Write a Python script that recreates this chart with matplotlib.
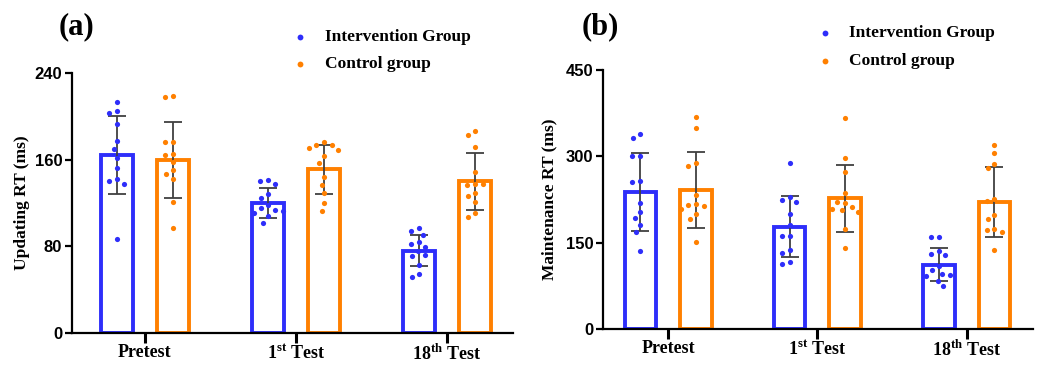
import matplotlib.pyplot as plt
import numpy as np

plt.rcParams['font.family'] = 'Liberation Serif'
plt.rcParams['font.weight'] = 'bold'
plt.rcParams['mathtext.fontset'] = 'custom'
plt.rcParams['mathtext.rm'] = 'Liberation Serif'
plt.rcParams['mathtext.bf'] = 'Liberation Serif:bold'

# data
tests = ['Pretest', '1$^{\\rm st}$ Test', '18$^{\\rm th}$ Test']

upd_int_mean = [164, 120, 76]
upd_int_sd = [36, 13.5, 14.5]
upd_con_mean = [160, 151, 140]
upd_con_sd = [35, 23, 26]
upd_int_pts = [
    [213, 205, 203, 193, 177, 170, 162, 152, 142, 140, 138, 86.5],
    [141, 140, 138, 128, 125, 118, 115, 114, 113, 111, 108, 102],
    [96.6, 94.5, 90.5, 84.3, 81.8, 79.7, 76, 72, 71, 62.5, 54.5, 51.4],
]
upd_con_pts = [
    [219, 218, 176, 176, 165.5, 164, 158, 150.5, 146.5, 142, 121, 97],
    [176, 174, 174, 170.5, 169, 163, 157, 144, 137, 129.5, 120, 113],
    [186.5, 182.8, 171.4, 148.3, 137.2, 136.6, 137.2, 129.5, 126.5, 121, 111, 107.4],
]

mnt_int_mean = [238, 178, 112]
mnt_int_sd = [67, 53, 29]
mnt_con_mean = [242, 227, 221]
mnt_con_sd = [66, 58, 61]
mnt_int_pts = [
    [338, 332, 301, 301, 257, 256, 219, 204, 193, 180, 168, 135],
    [288, 230, 224, 221, 200, 181, 162, 162, 138, 132, 116, 113],
    [160, 160, 136, 131, 128, 109, 103, 96, 94, 92.5, 84, 74],
]
mnt_con_pts = [
    [368, 350, 288, 283, 233, 217, 216, 213, 208, 199.5, 191, 152],
    [366, 297, 272, 236, 219, 220, 212, 206, 209, 203, 174, 140.5],
    [320, 305, 287, 279, 226, 223, 198, 191, 173.5, 172, 168, 137.6],
]

blue = '#2e2efa'
orange = '#ff8000'
W, H = 1045, 366


def swarm_x(ax, xc, vals, d=8.0):
    # simple beeswarm in pixel space
    pts = [ax.transData.transform((xc, v)) for v in vals]
    cx = pts[0][0]
    placed = []
    xs = []
    for px, py in pts:
        cands = [0.0]
        for ox, oy in placed:
            dy = py - oy
            if abs(dy) < d:
                dx = np.sqrt(d * d - dy * dy)
                cands += [ox - dx, ox + dx]
        cands.sort(key=abs)
        for c in cands:
            if all((c - ox) ** 2 + (py - oy) ** 2 >= d * d - 1e-6 for ox, oy in placed):
                break
        placed.append((c, py))
        xs.append(ax.transData.inverted().transform((cx + c, py))[0])
    return xs


def panel(rect, xlim, ylim, yticks, ylabel, means, sds, pts, letter, lpos, lpad):
    ax = fig.add_axes(rect)
    ax.set_xlim(*xlim)
    ax.set_ylim(*ylim)
    idx = np.arange(len(tests))
    off = 0.186
    width = 0.212
    for k, (m, s, p, col) in enumerate([(means[0], sds[0], pts[0], blue),
                                         (means[1], sds[1], pts[1], orange)]):
        xpos = idx + (-off if k == 0 else off)
        ax.bar(xpos, m, width, facecolor='white', edgecolor=col, linewidth=2.8, zorder=2)
        ax.errorbar(xpos, m, yerr=s, fmt='none', ecolor='#404040', elinewidth=1.3,
                    capsize=6.5, capthick=1.3, zorder=3)
        for i in idx:
            xs = swarm_x(ax, xpos[i], p[i])
            ax.scatter(xs, p[i], s=14, color=col, zorder=4, linewidths=0)
    ax.spines['top'].set_visible(False)
    ax.spines['right'].set_visible(False)
    ax.spines['left'].set_linewidth(1.6)
    ax.spines['bottom'].set_linewidth(1.6)
    ax.set_yticks(yticks)
    ax.set_yticklabels([str(t) for t in yticks], family='Liberation Sans',
                       fontweight='bold', fontsize=12)
    ax.tick_params(axis='y', length=5, width=1.6, pad=2)
    ax.set_xticks(idx)
    ax.set_xticklabels(tests, fontsize=13, fontweight='bold')
    ax.tick_params(axis='x', length=7, width=2.2, pad=1)
    ax.set_ylabel(ylabel, fontsize=12.5, fontweight='bold', labelpad=lpad)
    fig.text(letter[0] / W, 1 - letter[1] / H, letter[2], fontsize=22,
             fontweight='bold', va='center', ha='left')
    # legend
    mx, tx, y1, y2 = lpos
    for y, col, lab in [(y1, blue, 'Intervention Group'), (y2, orange, 'Control group')]:
        fig.add_artist(plt.Line2D([mx / W], [1 - y / H], marker='o', markersize=4.2,
                                  color=col, linestyle='none', markeredgewidth=0))
        fig.text(tx / W, 1 - y / H, lab, fontsize=12.5, fontweight='bold',
                 va='center', ha='left')
    return ax


fig = plt.figure(figsize=(W / 100, H / 100), dpi=100)

panel([72 / W, 33 / H, 441 / W, 260 / H], (-0.483, 2.437), (0, 240), [0, 80, 160, 240],
      'Updating RT (ms)', (upd_int_mean, upd_con_mean), (upd_int_sd, upd_con_sd),
      (upd_int_pts, upd_con_pts), (59, 27, '(a)'), (300, 325, 37, 64), 3)

panel([603 / W, 37 / H, 430 / W, 259 / H], (-0.436, 2.444), (0, 450), [0, 150, 300, 450],
      'Maintenance RT (ms)', (mnt_int_mean, mnt_con_mean), (mnt_int_sd, mnt_con_sd),
      (mnt_int_pts, mnt_con_pts), (582, 27, '(b)'), (825, 849, 33, 61), 6)

plt.savefig('out.png', dpi=100)
